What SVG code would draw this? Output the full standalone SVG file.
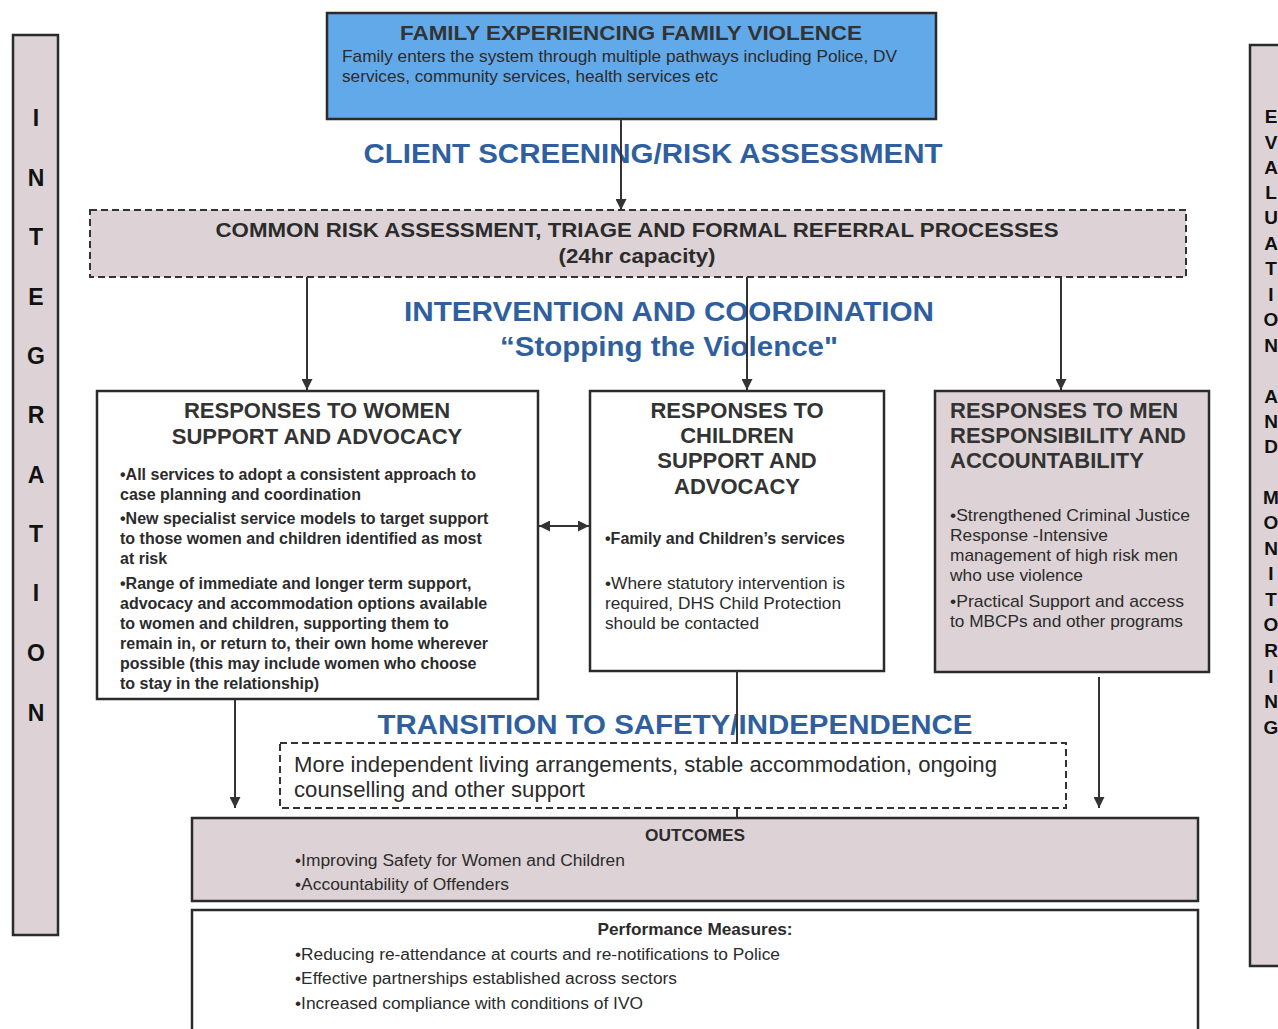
<svg xmlns="http://www.w3.org/2000/svg" width="1278" height="1029" viewBox="0 0 1278 1029">
<defs>
<marker id="ah" viewBox="0 0 10 10" refX="10" refY="5" markerWidth="11" markerHeight="11" markerUnits="userSpaceOnUse" orient="auto-start-reverse">
<path d="M0,0 L10,5 L0,10 z" fill="#333"/>
</marker>
<style>
text{font-family:"Liberation Sans",Arial,sans-serif;fill:#2b2b2b}
.box{stroke:#2b2b2b;stroke-width:2.5}
.dash{stroke:#333;stroke-width:2;stroke-dasharray:7 4}
.pink{fill:#ddd3d6}
.head{font-weight:bold;fill:#2f5f9f;font-size:27px;text-anchor:middle}
.bt{font-weight:bold;font-size:22px;fill:#333}
.b{font-size:16px;font-weight:bold}
.r{font-size:17px}
.n{font-size:17.3px}
.side{font-weight:bold;font-size:23px;text-anchor:middle;fill:#111}
.side2{font-weight:bold;font-size:19px;text-anchor:middle;fill:#111}
.con{stroke:#333;stroke-width:2;fill:none}
</style>
</defs>
<rect width="1278" height="1029" fill="#fff"/>

<g id="integration">
<rect class="box pink" x="13" y="35" width="45" height="900"/>
<text class="side" x="36" y="126">I</text>
<text class="side" x="36" y="186">N</text>
<text class="side" x="36" y="245">T</text>
<text class="side" x="36" y="305">E</text>
<text class="side" x="36" y="364">G</text>
<text class="side" x="36" y="423">R</text>
<text class="side" x="36" y="483">A</text>
<text class="side" x="36" y="542">T</text>
<text class="side" x="36" y="601">I</text>
<text class="side" x="36" y="661">O</text>
<text class="side" x="36" y="721">N</text>
</g>

<g id="evaluation">
<rect class="box pink" x="1250" y="45" width="40" height="921"/>
<text class="side2" x="1271" y="123">E</text>
<text class="side2" x="1271" y="149">V</text>
<text class="side2" x="1271" y="174">A</text>
<text class="side2" x="1271" y="199">L</text>
<text class="side2" x="1271" y="224">U</text>
<text class="side2" x="1271" y="250">A</text>
<text class="side2" x="1271" y="275">T</text>
<text class="side2" x="1271" y="301">I</text>
<text class="side2" x="1271" y="326">O</text>
<text class="side2" x="1271" y="352">N</text>
<text class="side2" x="1271" y="403">A</text>
<text class="side2" x="1271" y="428">N</text>
<text class="side2" x="1271" y="453">D</text>
<text class="side2" x="1271" y="504">M</text>
<text class="side2" x="1271" y="529">O</text>
<text class="side2" x="1271" y="555">N</text>
<text class="side2" x="1271" y="580">I</text>
<text class="side2" x="1271" y="606">T</text>
<text class="side2" x="1271" y="631">O</text>
<text class="side2" x="1271" y="657">R</text>
<text class="side2" x="1271" y="683">I</text>
<text class="side2" x="1271" y="708">N</text>
<text class="side2" x="1271" y="734">G</text>
</g>

<g id="family">
<rect class="box" x="327" y="13" width="609" height="106" fill="#62a9ea"/>
<text x="631" y="40" text-anchor="middle" style="font-weight:bold;font-size:21px;fill:#333" textLength="462" lengthAdjust="spacingAndGlyphs">FAMILY EXPERIENCING FAMILY VIOLENCE</text>
<text class="r" x="342" y="62" textLength="555" lengthAdjust="spacingAndGlyphs">Family enters the system through multiple pathways including Police, DV</text>
<text class="r" x="342" y="82" textLength="376" lengthAdjust="spacingAndGlyphs">services, community services, health services etc</text>
</g>

<g id="labels">
<text class="head" x="653" y="163" textLength="579" lengthAdjust="spacingAndGlyphs">CLIENT SCREENING/RISK ASSESSMENT</text>
<text class="head" x="669" y="321" textLength="530" lengthAdjust="spacingAndGlyphs">INTERVENTION AND COORDINATION</text>
<text class="head" x="669" y="356" textLength="338" lengthAdjust="spacingAndGlyphs">“Stopping the Violence"</text>
<text class="head" x="675" y="734" textLength="595" lengthAdjust="spacingAndGlyphs">TRANSITION TO SAFETY/INDEPENDENCE</text>
</g>

<g id="common">
<rect class="dash pink" x="90" y="210" width="1096" height="67"/>
<text x="637" y="237" text-anchor="middle" style="font-weight:bold;font-size:21px" textLength="843" lengthAdjust="spacingAndGlyphs">COMMON RISK ASSESSMENT, TRIAGE AND FORMAL REFERRAL PROCESSES</text>
<text x="637" y="263" text-anchor="middle" style="font-weight:bold;font-size:21px" textLength="157" lengthAdjust="spacingAndGlyphs">(24hr capacity)</text>
</g>

<g id="women">
<rect class="box" x="97" y="391" width="441" height="308" fill="#fff"/>
<text class="bt" x="317" y="418" text-anchor="middle">RESPONSES TO WOMEN</text>
<text class="bt" x="317" y="444" text-anchor="middle">SUPPORT AND ADVOCACY</text>
<text class="b" x="120" y="480">•All services to adopt a consistent approach to</text>
<text class="b" x="120" y="500">case planning and coordination</text>
<text class="b" x="120" y="524">•New specialist service models to target support</text>
<text class="b" x="120" y="544">to those women and children identified as most</text>
<text class="b" x="120" y="564">at risk</text>
<text class="b" x="120" y="589">•Range of immediate and longer term support,</text>
<text class="b" x="120" y="609">advocacy and accommodation options available</text>
<text class="b" x="120" y="629">to women and children,  supporting them to</text>
<text class="b" x="120" y="649">remain in, or return to, their own home wherever</text>
<text class="b" x="120" y="669">possible (this may include women who choose</text>
<text class="b" x="120" y="689">to stay in the relationship)</text>
</g>

<g id="children">
<rect class="box" x="590" y="391" width="294" height="280" fill="#fff"/>
<text class="bt" x="737" y="418" text-anchor="middle">RESPONSES TO</text>
<text class="bt" x="737" y="443" text-anchor="middle">CHILDREN</text>
<text class="bt" x="737" y="468" text-anchor="middle">SUPPORT AND</text>
<text class="bt" x="737" y="494" text-anchor="middle">ADVOCACY</text>
<text class="b" x="605" y="544">•Family and Children’s services</text>
<text class="r" x="605" y="589" textLength="240" lengthAdjust="spacingAndGlyphs">•Where statutory intervention is</text>
<text class="r" x="605" y="609" textLength="236" lengthAdjust="spacingAndGlyphs">required, DHS Child Protection</text>
<text class="r" x="605" y="629" textLength="154" lengthAdjust="spacingAndGlyphs">should be contacted</text>
</g>

<g id="men">
<rect class="box pink" x="935" y="391" width="274" height="281"/>
<text class="bt" x="950" y="418">RESPONSES TO MEN</text>
<text class="bt" x="950" y="443">RESPONSIBILITY AND</text>
<text class="bt" x="950" y="468">ACCOUNTABILITY</text>
<text class="r" x="950" y="521" textLength="240" lengthAdjust="spacingAndGlyphs">•Strengthened Criminal Justice</text>
<text class="r" x="950" y="541" textLength="158" lengthAdjust="spacingAndGlyphs">Response -Intensive</text>
<text class="r" x="950" y="561" textLength="228" lengthAdjust="spacingAndGlyphs">management of high risk men</text>
<text class="r" x="950" y="581" textLength="133" lengthAdjust="spacingAndGlyphs">who use violence</text>
<text class="r" x="950" y="607" textLength="234" lengthAdjust="spacingAndGlyphs">•Practical Support and access</text>
<text class="r" x="950" y="627" textLength="233" lengthAdjust="spacingAndGlyphs">to MBCPs and other programs</text>
</g>

<g id="transition">
<rect class="dash" x="280" y="743" width="786" height="65" fill="#fff"/>
<text x="294" y="772" style="font-size:22px" textLength="703" lengthAdjust="spacingAndGlyphs">More independent living arrangements, stable accommodation, ongoing</text>
<text x="294" y="797" style="font-size:22px" textLength="291" lengthAdjust="spacingAndGlyphs">counselling and other support</text>
</g>

<g id="outcomes">
<rect class="box pink" x="192" y="818" width="1006" height="83" stroke-width="3"/>
<text x="695" y="841" text-anchor="middle" style="font-weight:bold;font-size:17px" textLength="100" lengthAdjust="spacingAndGlyphs">OUTCOMES</text>
<text class="n" x="295" y="866" textLength="330" lengthAdjust="spacingAndGlyphs">•Improving Safety for Women and Children</text>
<text class="n" x="295" y="890" textLength="214" lengthAdjust="spacingAndGlyphs">•Accountability of Offenders</text>
</g>

<g id="performance">
<rect class="box" x="192" y="910" width="1006" height="130" fill="#fff" stroke-width="3"/>
<text x="695" y="935" text-anchor="middle" style="font-weight:bold;font-size:17px" textLength="195" lengthAdjust="spacingAndGlyphs">Performance Measures:</text>
<text class="n" x="295" y="960" textLength="485" lengthAdjust="spacingAndGlyphs">•Reducing re-attendance at courts and re-notifications to Police</text>
<text class="n" x="295" y="984" textLength="382" lengthAdjust="spacingAndGlyphs">•Effective partnerships established across sectors</text>
<text class="n" x="295" y="1009" textLength="348" lengthAdjust="spacingAndGlyphs">•Increased compliance with conditions of IVO</text>
</g>

<g id="connectors">
<line class="con" x1="621" y1="119" x2="621" y2="210" marker-end="url(#ah)"/>
<line class="con" x1="307" y1="277" x2="307" y2="390" marker-end="url(#ah)"/>
<line class="con" x1="747" y1="277" x2="747" y2="390" marker-end="url(#ah)"/>
<line class="con" x1="1061" y1="277" x2="1061" y2="390" marker-end="url(#ah)"/>
<line class="con" x1="539" y1="526" x2="589" y2="526" marker-start="url(#ah)" marker-end="url(#ah)"/>
<line class="con" x1="737" y1="671" x2="737" y2="743"/>
<line class="con" x1="737" y1="808" x2="737" y2="818"/>
<line class="con" x1="235" y1="699" x2="235" y2="808" marker-end="url(#ah)"/>
<line class="con" x1="1099" y1="677" x2="1099" y2="808" marker-end="url(#ah)"/>
</g>
</svg>
